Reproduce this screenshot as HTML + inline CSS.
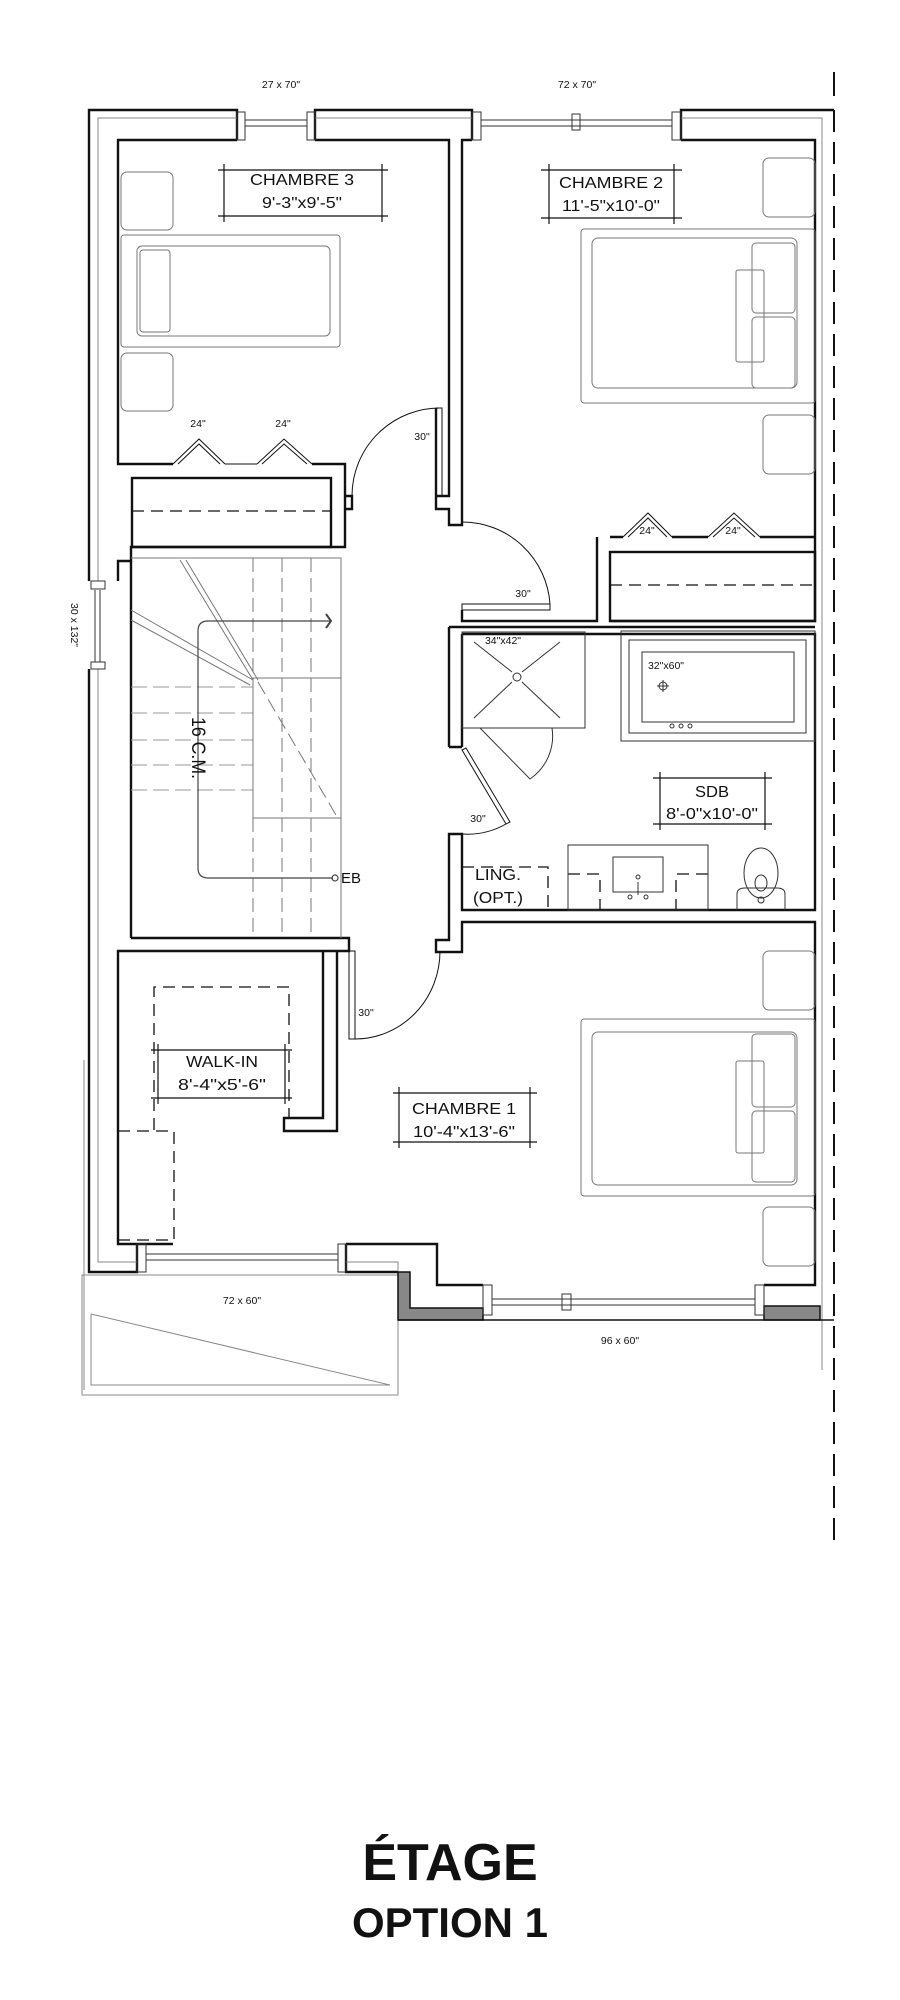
<!DOCTYPE html>
<html><head><meta charset="utf-8"><style>
html,body{margin:0;padding:0;background:#fff}
svg{display:block}
text{font-family:"Liberation Sans",sans-serif;fill:#111}
</style></head><body>
<svg width="900" height="2000" viewBox="0 0 900 2000" xmlns="http://www.w3.org/2000/svg">
<g fill="none" stroke="#111" stroke-width="2.4">
<path d="M89,581 V110 H237 V140 M315,140 V110 H472 V140 M681,140 V110 H834"/>
<path d="M89,669 V1272 H137 V1244 M346,1244 V1272 H398"/>
<path d="M237,140 H118 V464 H173 M312,464 H345 V547 H131 V561 H118 V581"/>
<path d="M315,140 H449 V496 H436 M436,408 V509 H449 V525 H462 V140 H472"/>
<path d="M681,140 H815 V537 H760 M672,537 H708 M623,537 H610 M597,537 V621 H462 V610 M815,537 V621 H610"/>
<rect x="132" y="478" width="199" height="69"/>
<path d="M345,496 H352 V509 H345"/>
<rect x="610" y="552" width="205" height="69"/>
<path d="M462,634 H815 V910 H462 V834 H449 V940 H436 V952 H462 V922 H815 V1244"/>
<path d="M462,747 V634 M449,747 H462 M449,627 V747" />
<path d="M449,627 H815"/>
<path d="M131,938 H349 V951 H118 V1244 H173 M346,1244 H437 V1285 H483 M764,1285 H815 V1244"/>
<path d="M323,951 V1118 H284 V1131 H337 V951"/>
<path d="M131,561 V938"/>
</g>
<g fill="none" stroke="#888" stroke-width="1">
<path d="M98,581 V118 H237 M315,118 H472 M681,118 H822 V1370"/>
<path d="M98,669 V1262 H137 M346,1262 H398 V1312 H483 M764,1312 H820"/>
<path d="M84,1060 V1390 M82,1275 H398 V1395 H82 Z M91,1314 V1385 H390 L91,1314"/>
</g>
<g fill="#888" stroke="#111" stroke-width="1.5">
<path d="M398,1272 H410 V1308 H483 V1320 H398 Z"/>
<rect x="764" y="1306" width="56" height="14"/>
</g>
<path d="M398,1320 H834" stroke="#111" stroke-width="1.5"/>
<path d="M834,72 V96" stroke="#111" stroke-width="2"/>
<path d="M834,110 V1548" stroke="#111" stroke-width="2" stroke-dasharray="22,10"/>
<g fill="none" stroke="#333" stroke-width="1">
<path d="M245,120 H307 M245,126 H307"/><rect x="237" y="112" width="8" height="28"/><rect x="307" y="112" width="8" height="28"/>
<path d="M481,120 H672 M481,126 H672"/><rect x="472" y="112" width="9" height="28"/><rect x="672" y="112" width="9" height="28"/><rect x="572" y="114" width="8" height="16"/>
<path d="M95,590 V662 M100,590 V662"/><rect x="91" y="581" width="14" height="8"/><rect x="91" y="662" width="14" height="7"/>
<path d="M146,1254 H338 M146,1260 H338"/><rect x="137" y="1244" width="9" height="28"/><rect x="338" y="1244" width="8" height="28"/>
<path d="M492,1299 H755 M492,1305 H755"/><rect x="483" y="1285" width="9" height="30"/><rect x="755" y="1285" width="9" height="30"/><rect x="562" y="1294" width="9" height="16"/>
</g>
<g fill="none" stroke="#111" stroke-width="1">
<rect x="436" y="408" width="6" height="88"/>
<path d="M442,408 A88,88 0 0 0 352,496"/>
<rect x="462" y="604" width="88" height="6"/>
<path d="M550,604 A88,88 0 0 0 462,522"/>
<path d="M462,750 L466,748 L510,822 L506,824 Z"/>
<path d="M506,824 A78,78 0 0 1 462,834"/>
<rect x="349" y="951" width="6" height="88"/>
<path d="M355,1039 A85,88 0 0 0 440,951"/>
<path d="M173,464 L199,439 L225,464 M178,464 L199,444 L220,464"/>
<path d="M257,464 L284,439 L312,464 M262,464 L284,444 L307,464"/>
<path d="M623,537 L648,513 L672,537 M628,537 L648,518 L667,537"/>
<path d="M708,537 L734,513 L760,537 M713,537 L734,518 L755,537"/>
<path d="M225,464 H257"/><path d="M672,537 H708"/>
</g>
<g stroke="#111" stroke-width="1.3" stroke-dasharray="12,7" fill="none">
<path d="M132,511 H331"/><path d="M610,585 H815"/>
<path d="M154,1130 V987 H289 V1118"/>
<path d="M118,1131 H174 V1240 H118"/>
<path d="M462,867 H548 V910"/>
<path d="M568,874 H600 V910 M708,874 H676 V910"/>
</g>
<g fill="none" stroke="#777" stroke-width="1">
<rect x="121" y="172" width="52" height="58" rx="6"/><rect x="121" y="353" width="52" height="58" rx="6"/>
<rect x="121" y="235" width="219" height="112" rx="3"/><rect x="137" y="246" width="193" height="90" rx="5"/><rect x="140" y="250" width="30" height="82" rx="3"/>
<rect x="763" y="158" width="52" height="59" rx="6"/><rect x="763" y="415" width="52" height="59" rx="6"/>
<rect x="581" y="229" width="234" height="174" rx="3"/><rect x="592" y="238" width="205" height="150" rx="6"/>
<rect x="752" y="243" width="43" height="70" rx="4"/><rect x="752" y="317" width="43" height="71" rx="4"/><rect x="736" y="270" width="28" height="92" rx="2"/>
<rect x="763" y="951" width="52" height="59" rx="6"/><rect x="763" y="1207" width="52" height="59" rx="6"/>
<rect x="581" y="1019" width="234" height="177" rx="3"/><rect x="592" y="1032" width="205" height="153" rx="6"/>
<rect x="752" y="1034" width="43" height="73" rx="4"/><rect x="752" y="1111" width="43" height="71" rx="4"/><rect x="736" y="1061" width="28" height="92" rx="2"/>
<path d="M131,558 H341 V938"/>
<path d="M253,558 V938 M282,558 V938 M311,558 V938" stroke-dasharray="14,6"/>
<path d="M131,687 H253 M131,713 H253 M131,740 H253 M131,765 H253 M131,790 H253" stroke-dasharray="16,6" stroke="#999"/>
<rect x="253" y="678" width="88" height="140"/>
<path d="M180,560 L253,680 M186,560 L258,680 M131,610 L253,680 M131,620 L250,685"/>
<path d="M258,682 L336,815" stroke-dasharray="14,6"/>
</g>
<g fill="none" stroke="#444" stroke-width="1.2">
<path d="M331,621 H208 Q198,621 198,631 V868 Q198,878 208,878 H333"/>
<path d="M326,614 L331,621 L326,628" stroke-width="2"/>
<circle cx="335" cy="878" r="3"/>
</g>
<g fill="none" stroke="#333" stroke-width="1">
<rect x="462" y="632" width="123" height="96"/>
<path d="M474,642 L512,672 M560,642 L522,672 M474,718 L512,682 M560,718 L522,682"/>
<circle cx="517" cy="677" r="4"/>
<path d="M480,728 L530,779 A52,52 0 0 0 552,728"/>
<rect x="621" y="631" width="194" height="110"/><rect x="629" y="640" width="177" height="93"/><rect x="642" y="652" width="152" height="70"/>
<circle cx="663" cy="686" r="4"/><path d="M663,680 V692 M657,686 H669"/>
<circle cx="672" cy="726" r="2"/><circle cx="681" cy="726" r="2"/><circle cx="690" cy="726" r="2"/>
<rect x="568" y="845" width="140" height="65"/><rect x="613" y="857" width="50" height="35"/>
<circle cx="638" cy="877" r="2"/><path d="M638,882 V895"/><circle cx="630" cy="897" r="2"/><circle cx="646" cy="897" r="2"/>
<ellipse cx="761" cy="873" rx="17" ry="25"/><ellipse cx="761" cy="883" rx="6" ry="8"/>
<path d="M737,910 V894 Q737,888 745,888 H777 Q785,888 785,894 V910"/>
<circle cx="761" cy="900" r="3"/>
</g>
<g stroke="#111" stroke-width="1.2" fill="none">
<path d="M218,170 H388 M218,216 H388 M224,164 V222 M382,164 V222"/>
<path d="M541,170 H682 M541,218 H682 M549,164 V224 M674,164 V224"/>
<path d="M653,778 H772 M653,824 H772 M660,772 V830 M765,772 V830"/>
<path d="M151,1050 H292 M151,1098 H292 M158,1044 V1104 M285,1044 V1104"/>
<path d="M393,1093 H537 M393,1142 H537 M399,1087 V1148 M530,1087 V1148"/>
</g>
<g font-size="15.5" text-anchor="middle">
<text x="302" y="185" textLength="104" lengthAdjust="spacingAndGlyphs">CHAMBRE 3</text>
<text x="302" y="208" textLength="80" lengthAdjust="spacingAndGlyphs">9'-3"x9'-5"</text>
<text x="611" y="188" textLength="104" lengthAdjust="spacingAndGlyphs">CHAMBRE 2</text>
<text x="611" y="211" textLength="98" lengthAdjust="spacingAndGlyphs">11'-5"x10'-0"</text>
<text x="712" y="797" textLength="34" lengthAdjust="spacingAndGlyphs">SDB</text>
<text x="712" y="819" textLength="92" lengthAdjust="spacingAndGlyphs">8'-0"x10'-0"</text>
<text x="222" y="1067" textLength="72" lengthAdjust="spacingAndGlyphs">WALK-IN</text>
<text x="222" y="1090" textLength="88" lengthAdjust="spacingAndGlyphs">8'-4"x5'-6"</text>
<text x="464" y="1114" textLength="104" lengthAdjust="spacingAndGlyphs">CHAMBRE 1</text>
<text x="464" y="1137" textLength="102" lengthAdjust="spacingAndGlyphs">10'-4"x13'-6"</text>
<text x="498" y="880" textLength="46" lengthAdjust="spacingAndGlyphs">LING.</text>
<text x="498" y="903" textLength="50" lengthAdjust="spacingAndGlyphs">(OPT.)</text>
</g>
<g font-size="10.5" text-anchor="middle">
<text x="281" y="88">27 x 70"</text>
<text x="577" y="88">72 x 70"</text>
<text x="242" y="1304">72 x 60"</text>
<text x="620" y="1344">96 x 60"</text>
<text x="422" y="440">30"</text>
<text x="523" y="597">30"</text>
<text x="478" y="822">30"</text>
<text x="366" y="1016">30"</text>
<text x="198" y="427">24"</text>
<text x="283" y="427">24"</text>
<text x="647" y="534">24"</text>
<text x="733" y="534">24"</text>
<text x="503" y="644">34"x42"</text>
<text x="666" y="669">32"x60"</text>
<text transform="translate(71,625) rotate(90)">30 x 132"</text>
</g>
<text x="341" y="883" font-size="15">EB</text>
<text transform="translate(192,717) rotate(90)" font-size="19" textLength="62" lengthAdjust="spacingAndGlyphs">16 C.M.</text>
<text x="450" y="1880" font-size="52" font-weight="bold" text-anchor="middle">ÉTAGE</text>
<text x="450" y="1937" font-size="42" font-weight="bold" text-anchor="middle">OPTION 1</text>
</svg>
</body></html>
